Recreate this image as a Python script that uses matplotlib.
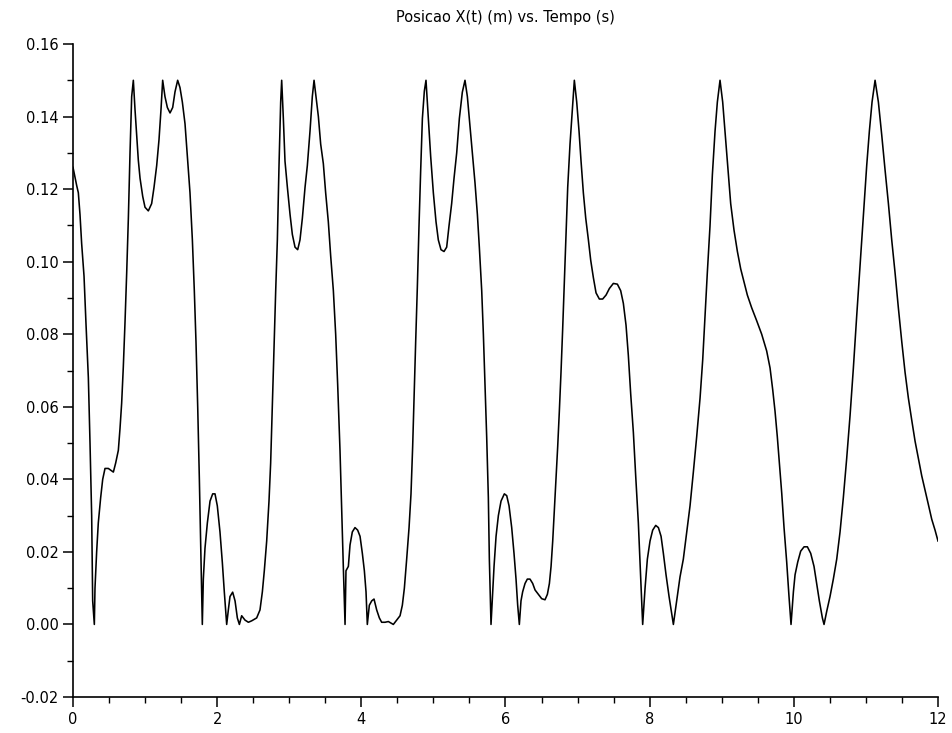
import matplotlib
matplotlib.use("Agg")
import matplotlib.pyplot as plt
from matplotlib.ticker import MultipleLocator

# tempo (s) e posicao X(t) (m)
tempo = [
    0.000, 0.051, 0.074, 0.097, 0.120, 0.153, 0.180, 0.213, 0.236, 0.259, 0.273, 0.296,
    0.305, 0.328, 0.351, 0.384, 0.412, 0.444, 0.490, 0.560, 0.592, 0.629, 0.652, 0.675,
    0.698, 0.721, 0.745, 0.768, 0.791, 0.814, 0.837, 0.860, 0.883, 0.906, 0.930, 0.967,
    0.999, 1.045, 1.091, 1.124, 1.161, 1.193, 1.221, 1.244, 1.276, 1.309, 1.346, 1.383,
    1.415, 1.452, 1.484, 1.517, 1.554, 1.586, 1.623, 1.656, 1.683, 1.706, 1.730, 1.753,
    1.776, 1.794, 1.808, 1.831, 1.864, 1.901, 1.938, 1.970, 2.002, 2.039, 2.072, 2.099,
    2.132, 2.155, 2.178, 2.215, 2.248, 2.280, 2.308, 2.340, 2.386, 2.433, 2.479, 2.548,
    2.594, 2.627, 2.654, 2.687, 2.719, 2.742, 2.765, 2.789, 2.812, 2.835, 2.858, 2.881,
    2.895, 2.918, 2.941, 2.974, 3.011, 3.043, 3.080, 3.117, 3.149, 3.182, 3.219, 3.251,
    3.288, 3.320, 3.344, 3.371, 3.404, 3.436, 3.473, 3.505, 3.542, 3.575, 3.612, 3.644,
    3.672, 3.704, 3.727, 3.750, 3.774, 3.787, 3.820, 3.843, 3.875, 3.912, 3.949, 3.982,
    4.014, 4.042, 4.065, 4.083, 4.111, 4.144, 4.176, 4.213, 4.250, 4.282, 4.329, 4.375,
    4.444, 4.490, 4.537, 4.569, 4.597, 4.629, 4.662, 4.689, 4.712, 4.731, 4.754, 4.777,
    4.800, 4.823, 4.847, 4.874, 4.897, 4.930, 4.962, 4.999, 5.036, 5.068, 5.105, 5.147,
    5.184, 5.216, 5.253, 5.286, 5.323, 5.360, 5.401, 5.438, 5.471, 5.508, 5.540, 5.577,
    5.610, 5.637, 5.670, 5.693, 5.716, 5.739, 5.762, 5.776, 5.799, 5.822, 5.841, 5.869,
    5.901, 5.938, 5.984, 6.017, 6.049, 6.086, 6.118, 6.146, 6.169, 6.192, 6.215, 6.238,
    6.271, 6.303, 6.340, 6.377, 6.410, 6.456, 6.502, 6.548, 6.581, 6.609, 6.632, 6.655,
    6.678, 6.701, 6.724, 6.747, 6.770, 6.793, 6.816, 6.840, 6.863, 6.895, 6.928, 6.955,
    6.988, 7.020, 7.048, 7.080, 7.113, 7.150, 7.182, 7.219, 7.256, 7.302, 7.348, 7.395,
    7.441, 7.496, 7.552, 7.598, 7.635, 7.672, 7.704, 7.737, 7.774, 7.806, 7.843, 7.876,
    7.903, 7.936, 7.968, 8.005, 8.042, 8.084, 8.121, 8.158, 8.190, 8.227, 8.269, 8.305,
    8.329, 8.375, 8.421, 8.467, 8.514, 8.560, 8.606, 8.652, 8.699, 8.736, 8.768, 8.800,
    8.837, 8.870, 8.907, 8.939, 8.976, 9.013, 9.045, 9.082, 9.124, 9.170, 9.217, 9.263,
    9.309, 9.355, 9.415, 9.485, 9.554, 9.623, 9.670, 9.707, 9.739, 9.771, 9.799, 9.832,
    9.864, 9.901, 9.933, 9.961, 9.994, 10.017, 10.054, 10.095, 10.142, 10.188, 10.234, 10.280,
    10.317, 10.354, 10.396, 10.419, 10.456, 10.502, 10.548, 10.595, 10.641, 10.687, 10.733, 10.780,
    10.826, 10.872, 10.919, 10.965, 11.011, 11.048, 11.085, 11.127, 11.173, 11.219, 11.265, 11.312,
    11.358, 11.404, 11.450, 11.497, 11.543, 11.589, 11.635, 11.682, 11.728, 11.774, 11.821, 11.867,
    11.913, 11.959, 12.000,
]

posicao = [
    0.1260, 0.1210, 0.1190, 0.1130, 0.1050, 0.0960, 0.0830, 0.0680, 0.0500, 0.0300, 0.0065, 0.0000,
    0.0100, 0.0200, 0.0280, 0.0350, 0.0400, 0.0430, 0.0430, 0.0420, 0.0445, 0.0480, 0.0540, 0.0610,
    0.0710, 0.0830, 0.0970, 0.1120, 0.1300, 0.1455, 0.1500, 0.1420, 0.1350, 0.1280, 0.1230, 0.1180,
    0.1150, 0.1140, 0.1160, 0.1205, 0.1265, 0.1336, 0.1420, 0.1500, 0.1455, 0.1425, 0.1410, 0.1425,
    0.1468, 0.1500, 0.1480, 0.1440, 0.1380, 0.1290, 0.1190, 0.1060, 0.0920, 0.0780, 0.0600, 0.0400,
    0.0180, 0.0000, 0.0125, 0.0210, 0.0280, 0.0340, 0.0360, 0.0360, 0.0327, 0.0255, 0.0170, 0.0090,
    0.0000, 0.0040, 0.0077, 0.0089, 0.0065, 0.0018, 0.0000, 0.0024, 0.0012, 0.0006, 0.0010, 0.0018,
    0.0040, 0.0090, 0.0148, 0.0230, 0.0340, 0.0445, 0.0600, 0.0754, 0.0920, 0.1060, 0.1265, 0.1440,
    0.1500, 0.1395, 0.1277, 0.1205, 0.1130, 0.1075, 0.1040, 0.1033, 0.1060, 0.1120, 0.1205, 0.1265,
    0.1360, 0.1455, 0.1500, 0.1455, 0.1400, 0.1324, 0.1270, 0.1190, 0.1110, 0.1015, 0.0920, 0.0800,
    0.0660, 0.0480, 0.0315, 0.0160, 0.0000, 0.0148, 0.0160, 0.0219, 0.0255, 0.0267, 0.0260, 0.0243,
    0.0196, 0.0148, 0.0090, 0.0000, 0.0053, 0.0065, 0.0070, 0.0040, 0.0018, 0.0006, 0.0006, 0.0008,
    0.0000, 0.0012, 0.0024, 0.0053, 0.0100, 0.0180, 0.0267, 0.0360, 0.0490, 0.0624, 0.0780, 0.0930,
    0.1098, 0.1250, 0.1395, 0.1470, 0.1500, 0.1395, 0.1290, 0.1190, 0.1110, 0.1060, 0.1033, 0.1028,
    0.1040, 0.1098, 0.1160, 0.1230, 0.1300, 0.1395, 0.1467, 0.1500, 0.1455, 0.1370, 0.1300, 0.1217,
    0.1130, 0.1040, 0.0920, 0.0800, 0.0660, 0.0517, 0.0350, 0.0180, 0.0000, 0.0090, 0.0160, 0.0243,
    0.0300, 0.0340, 0.0360, 0.0355, 0.0327, 0.0267, 0.0196, 0.0125, 0.0053, 0.0000, 0.0065, 0.0090,
    0.0113, 0.0125, 0.0125, 0.0113, 0.0095, 0.0083, 0.0071, 0.0068, 0.0083, 0.0113, 0.0160, 0.0230,
    0.0315, 0.0400, 0.0490, 0.0588, 0.0695, 0.0814, 0.0944, 0.1087, 0.1205, 0.1324, 0.1420, 0.1500,
    0.1440, 0.1360, 0.1277, 0.1190, 0.1120, 0.1060, 0.1004, 0.0956, 0.0914, 0.0897, 0.0897, 0.0908,
    0.0926, 0.0940, 0.0938, 0.0920, 0.0885, 0.0825, 0.0742, 0.0635, 0.0529, 0.0410, 0.0280, 0.0125,
    0.0000, 0.0100, 0.0180, 0.0230, 0.0260, 0.0273, 0.0267, 0.0243, 0.0196, 0.0137, 0.0077, 0.0030,
    0.0000, 0.0065, 0.0131, 0.0180, 0.0255, 0.0327, 0.0420, 0.0517, 0.0624, 0.0730, 0.0850, 0.0970,
    0.1098, 0.1240, 0.1360, 0.1440, 0.1500, 0.1440, 0.1360, 0.1265, 0.1160, 0.1087, 0.1028, 0.0980,
    0.0944, 0.0908, 0.0873, 0.0837, 0.0800, 0.0754, 0.0707, 0.0647, 0.0588, 0.0517, 0.0445, 0.0362,
    0.0267, 0.0172, 0.0077, 0.0000, 0.0090, 0.0137, 0.0172, 0.0202, 0.0214, 0.0214, 0.0196, 0.0160,
    0.0113, 0.0065, 0.0018, 0.0000, 0.0036, 0.0077, 0.0125, 0.0180, 0.0255, 0.0350, 0.0457, 0.0576,
    0.0707, 0.0850, 0.0990, 0.1130, 0.1265, 0.1360, 0.1440, 0.1500, 0.1440, 0.1350, 0.1254, 0.1160,
    0.1060, 0.0970, 0.0873, 0.0780, 0.0695, 0.0624, 0.0564, 0.0505, 0.0457, 0.0410, 0.0370, 0.0330,
    0.0290, 0.0260, 0.0230,
]

fig = plt.figure(figsize=(9.53, 7.33), dpi=100)
ax = fig.add_axes([73 / 953, 1 - 697 / 733, 865 / 953, 653 / 733])

ax.plot(tempo, posicao, color="black", linewidth=1.15)

ax.set_xlim(0, 12)
ax.set_ylim(-0.02, 0.16)
ax.xaxis.set_major_locator(MultipleLocator(2))
ax.xaxis.set_minor_locator(MultipleLocator(0.5))
ax.yaxis.set_major_locator(MultipleLocator(0.02))
ax.yaxis.set_minor_locator(MultipleLocator(0.01))
ax.yaxis.set_major_formatter(plt.FormatStrFormatter("%.2f"))

for side in ["top", "right"]:
    ax.spines[side].set_visible(False)
ax.spines["left"].set_linewidth(1.2)
ax.spines["bottom"].set_linewidth(1.2)
ax.tick_params(which="major", length=7, width=1.1, labelsize=10.5, direction="out")
ax.tick_params(which="minor", length=4, width=1.0, direction="out")

ax.set_title("Posicao X(t) (m) vs. Tempo (s)", fontsize=10.5, pad=16)

fig.savefig("out.png", dpi=100)
